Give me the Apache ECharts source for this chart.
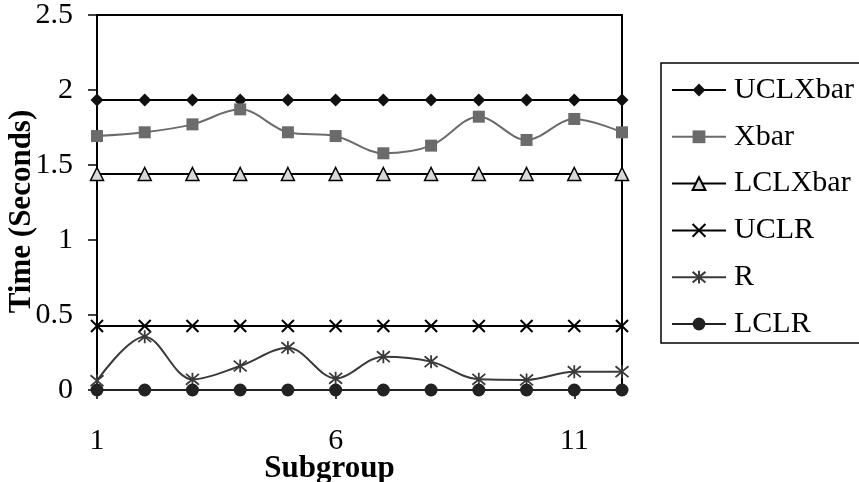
<!DOCTYPE html>
<html>
<head>
<meta charset="utf-8">
<script src="https://cdn.jsdelivr.net/npm/echarts@6/dist/echarts.min.js"></script>
<style>
  html, body { margin: 0; padding: 0; background: #fff; }
  #chart { width: 859px; height: 482px; }
</style>
</head>
<body>
<div id="chart"></div>
<script>
// Control chart: subgroup means (Xbar) and ranges (R) with their limits
const subgroups = ['1', '2', '3', '4', '5', '6', '7', '8', '9', '10', '11', '12'];
const uclXbar = [1.933, 1.933, 1.933, 1.933, 1.933, 1.933, 1.933, 1.933, 1.933, 1.933, 1.933, 1.933];
const xbar    = [1.693, 1.718, 1.771, 1.871, 1.718, 1.693, 1.578, 1.629, 1.822, 1.667, 1.807, 1.718];
const lclXbar = [1.44, 1.44, 1.44, 1.44, 1.44, 1.44, 1.44, 1.44, 1.44, 1.44, 1.44, 1.44];
const uclR    = [0.427, 0.427, 0.427, 0.427, 0.427, 0.427, 0.427, 0.427, 0.427, 0.427, 0.427, 0.427];
const rValues = [0.062, 0.355, 0.071, 0.160, 0.282, 0.078, 0.222, 0.189, 0.071, 0.067, 0.122, 0.122];
const lclR    = [0, 0, 0, 0, 0, 0, 0, 0, 0, 0, 0, 0];
const yTicks  = { min: 0, max: 2.5, interval: 0.5 };

const FONT = "'Liberation Serif', 'Times New Roman', serif";

const crossPath = 'path://M0,0L10,10M10,0L0,10';
const starPath = 'path://M0,0L10,10M10,0L0,10M5,-1L5,11';

function lineSeries(name, data, symbol, size, itemStyle, lineColor) {
  return {
    name, type: 'line', data,
    symbol, symbolSize: size,
    showAllSymbol: true,
    lineStyle: { color: lineColor, width: 2 },
    itemStyle,
    emphasis: { disabled: true }
  };
}

const chart = echarts.init(document.getElementById('chart'), null, { renderer: 'canvas' });
chart.setOption({
  animation: false,
  backgroundColor: '#fff',
  textStyle: { fontFamily: FONT },
  grid: {
    left: 97, top: 15, width: 525, height: 375,
    containLabel: false,
    outerBoundsMode: 'none',
    show: true, borderColor: '#000', borderWidth: 2, backgroundColor: 'transparent'
  },
  legend: {
    orient: 'vertical',
    left: 661, top: 63,
    padding: [12, 12, 4, 10],
    borderColor: '#000', borderWidth: 1.5,
    itemWidth: 54, itemHeight: 16, itemGap: 16.8,
    textStyle: { fontFamily: FONT, fontSize: 30, color: '#000', lineHeight: 30, padding: [0, 0, 0, 3] },
    data: ['UCLXbar', 'Xbar', 'LCLXbar', 'UCLR', 'R', 'LCLR']
  },
  xAxis: {
    type: 'category', data: subgroups, boundaryGap: false,
    name: 'Subgroup', nameLocation: 'middle', nameGap: 64, nameMoveOverlap: false,
    nameTextStyle: { fontFamily: FONT, fontSize: 31, fontWeight: 'bold', color: '#000', lineHeight: 30, padding: [0, 60, 0, 0] },
    axisLine: { lineStyle: { color: '#000', width: 2 } },
    axisTick: { show: true, interval: 4, length: 9, lineStyle: { color: '#000', width: 1.5 } },
    axisLabel: { interval: 4, margin: 36, fontFamily: FONT, fontSize: 30, color: '#000', lineHeight: 30 },
    splitLine: { show: false }
  },
  yAxis: {
    type: 'value', min: yTicks.min, max: yTicks.max, interval: yTicks.interval,
    name: 'Time (Seconds)', nameLocation: 'middle', nameGap: 60, nameMoveOverlap: false,
    nameTextStyle: { fontFamily: FONT, fontSize: 31, fontWeight: 'bold', color: '#000', lineHeight: 30, padding: [0, 18, 0, 0] },
    axisLine: { show: true, lineStyle: { color: '#000', width: 2 } },
    axisTick: { show: true, length: 9, lineStyle: { color: '#000', width: 1.5 } },
    axisLabel: { margin: 24, fontFamily: FONT, fontSize: 30, color: '#000' },
    splitLine: { show: false }
  },
  series: [
    lineSeries('UCLXbar', uclXbar, 'diamond', 13, { color: '#111' }, '#000'),
    Object.assign(lineSeries('Xbar', xbar, 'rect', 12, { color: '#6b6b6b' }, '#6b6b6b'), { smooth: 0.35 }),
    lineSeries('LCLXbar', lclXbar, 'triangle', 13, { color: '#d9d9d9', borderColor: '#000', borderWidth: 1.5 }, '#000'),
    lineSeries('UCLR', uclR, crossPath, 12, { color: '#000', borderColor: '#000', borderWidth: 2 }, '#000'),
    Object.assign(lineSeries('R', rValues, starPath, 13, { color: '#3a3a3a', borderColor: '#3a3a3a', borderWidth: 1.8 }, '#3a3a3a'), { smooth: 0.35 }),
    lineSeries('LCLR', lclR, 'circle', 13, { color: '#222' }, '#222')
  ]
});
</script>
</body>
</html>
